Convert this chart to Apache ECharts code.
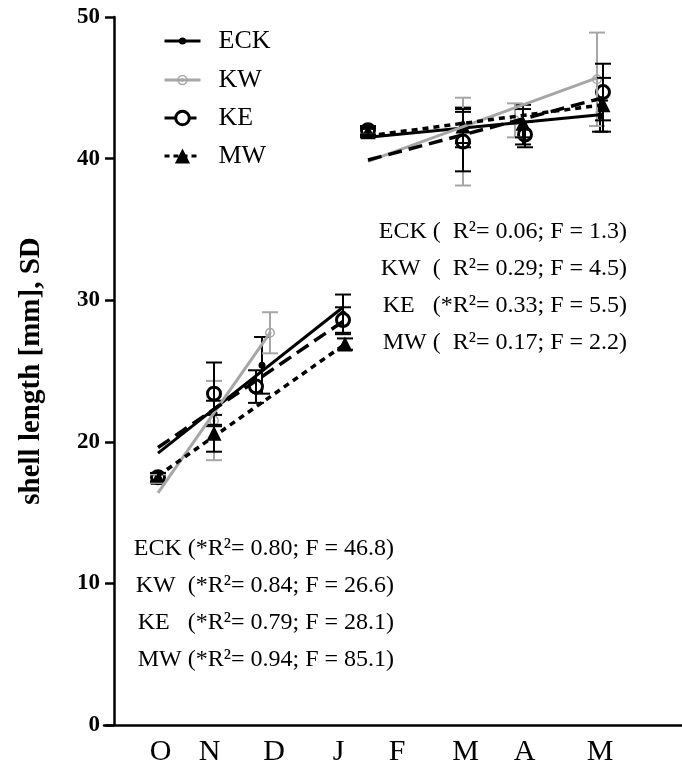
<!DOCTYPE html>
<html>
<head>
<meta charset="utf-8">
<script src="https://cdn.jsdelivr.net/npm/echarts@6/dist/echarts.min.js"></script>
<style>
  html, body { margin: 0; padding: 0; background: #fff; }
  #chart { width: 682px; height: 771px; }
</style>
</head>
<body>
<div id="chart"></div>
<script>
// x axis: study day on which each month label sits
const monthTicks  = [28.25, 52.75, 85, 117.25, 146.5, 180.75, 210.25, 248];
const monthLabels = ['O', 'N', 'D', 'J', 'F', 'M', 'A', 'M'];
const yTicks = { min: 0, max: 50, step: 10 };

// ECK: sampling day, mean shell length (mm), SD
const eckDay  = [27, 55, 79, 119.5, 132, 179.5, 209.5, 248];
const eckMean = [17.4, 22.0, 25.4, 29.0, 41.8, 42.2, 42.4, 43.0];
const eckSD   = [0.3, 0.9, 2.0, 1.4, 0.3, 1.4, 1.4, 1.1];

// KW
const kwDay  = [27, 55, 83, 132, 179.5, 205.5, 246.5];
const kwMean = [17.4, 21.5, 27.7, 42.0, 41.2, 42.7, 45.6];
const kwSD   = [0.3, 2.8, 1.45, 0.3, 3.1, 1.2, 3.3];

// KE
const keDay  = [27, 55, 76, 119.5, 132, 179.5, 210.5, 249.5];
const keMean = [17.5, 23.4, 23.9, 28.6, 42.0, 41.2, 41.7, 44.7];
const keSD   = [0.3, 2.2, 1.15, 0.9, 0.3, 2.1, 0.9, 2.0];

// MW
const mwDay  = [27, 55, 120.5, 132, 179.5, 209.5, 249.5];
const mwMean = [17.5, 20.6, 26.9, 41.9, 42.3, 42.5, 43.8];
const mwSD   = [0.3, 1.3, 0.4, 0.3, 1.2, 1.0, 1.9];

// Linear fits per period (autumn-winter, spring): [start day, end day] -> [start, end] length
const eckFitDay = [[27, 119.5], [132, 248]];
const eckFit    = [[19.2, 29.5], [41.5, 43.1]];
const kwFitDay  = [[27, 83], [132, 246.5]];
const kwFit     = [[16.4, 27.7], [39.8, 45.7]];
const keFitDay  = [[27, 119.5], [132, 249.5]];
const keFit     = [[19.6, 28.5], [39.9, 44.3]];
const mwFitDay  = [[27, 119.5], [132, 249.5]];
const mwFit     = [[17.6, 26.8], [41.6, 43.8]];

// Regression statistics printed on the plot
const statsAutumn = [
  'ECK (*R\u00B2= 0.80; F = 46.8)',
  'KW  (*R\u00B2= 0.84; F = 26.6)',
  'KE   (*R\u00B2= 0.79; F = 28.1)',
  'MW (*R\u00B2= 0.94; F = 85.1)'
];
const statsSpring = [
  'ECK (  R\u00B2= 0.06; F = 1.3)',
  'KW  (  R\u00B2= 0.29; F = 4.5)',
  'KE   (*R\u00B2= 0.33; F = 5.5)',
  'MW (  R\u00B2= 0.17; F = 2.2)'
];

const SERIF = '"Liberation Serif", "Times New Roman", serif';
const GRAY = '#a6a6a6';
const BULLSEYE = 'path://M0,-10A10,10 0 1,1 0,10A10,10 0 1,1 0,-10Z' +
                 'M0,-7A7,7 0 1,0 0,7A7,7 0 1,0 0,-7Z' +
                 'M0,-3.2A3.2,3.2 0 1,1 0,3.2A3.2,3.2 0 1,1 0,-3.2Z';

const pops = [
  { name: 'ECK', day: eckDay, mean: eckMean, sd: eckSD, fitDay: eckFitDay, fit: eckFit,
    barColor: '#000', symbol: 'circle', size: 7,
    item: { color: '#000' }, line: { color: '#000', width: 3, type: 'solid' },
    legendH: 9, legendLine: { color: '#000', width: 3, type: 'solid' } },
  { name: 'KW', day: kwDay, mean: kwMean, sd: kwSD, fitDay: kwFitDay, fit: kwFit,
    barColor: GRAY, symbol: BULLSEYE, size: 10,
    item: { color: GRAY }, line: { color: GRAY, width: 3, type: 'solid' },
    legendH: 13, legendLine: { color: GRAY, width: 3, type: 'solid' } },
  { name: 'KE', day: keDay, mean: keMean, sd: keSD, fitDay: keFitDay, fit: keFit,
    barColor: '#000', symbol: 'circle', size: 13,
    item: { color: '#fff', borderColor: '#000', borderWidth: 3 },
    line: { color: '#000', width: 3.5, type: [14, 7] },
    legendH: 17, legendLine: { color: '#000', width: 3, type: [12, 8] } },
  { name: 'MW', day: mwDay, mean: mwMean, sd: mwSD, fitDay: mwFitDay, fit: mwFit,
    barColor: '#000', symbol: 'triangle', size: 15,
    item: { color: '#000' }, line: { color: '#000', width: 3.5, type: [6, 5] },
    legendH: 19, legendLine: { color: '#000', width: 3, type: [5, 4] } }
];

const legendRows = [41, 80, 118, 156];

const series = [];
pops.forEach(function (p) {
  // regression segments (first series of each name supplies the legend icon)
  p.fitDay.forEach(function (span, k) {
    series.push({
      name: p.name, type: 'line', z: 5,
      symbol: p.symbol, showSymbol: false, silent: true,
      itemStyle: p.item,
      lineStyle: p.line,
      data: [[span[0], p.fit[k][0]], [span[1], p.fit[k][1]]]
    });
  });
  // SD bars
  series.push({
    name: p.name, type: 'custom', z: 4, silent: true,
    data: p.day.map(function (d, i) { return [d, p.mean[i], p.sd[i]]; }),
    encode: { x: 0, y: 1 },
    renderItem: function (params, api) {
      const x = api.value(0), m = api.value(1), s = api.value(2);
      const top = api.coord([x, m + s]);
      const bot = api.coord([x, m - s]);
      const hw = 8;
      const st = { stroke: p.barColor, lineWidth: 2 };
      return {
        type: 'group',
        children: [
          { type: 'line', shape: { x1: top[0], y1: top[1], x2: bot[0], y2: bot[1] }, style: st },
          { type: 'line', shape: { x1: top[0] - hw, y1: top[1], x2: top[0] + hw, y2: top[1] }, style: st },
          { type: 'line', shape: { x1: bot[0] - hw, y1: bot[1], x2: bot[0] + hw, y2: bot[1] }, style: st }
        ]
      };
    }
  });
  // means
  series.push({
    name: p.name, type: 'scatter', z: 3,
    symbol: p.symbol, symbolSize: p.size,
    itemStyle: Object.assign({ opacity: 1 }, p.item),
    data: p.day.map(function (d, i) { return [d, p.mean[i]]; })
  });
});

const legends = pops.map(function (p, i) {
  return {
    left: 163,
    top: legendRows[i] - Math.max(p.legendH, 26) / 2,
    padding: 0,
    orient: 'vertical',
    itemWidth: 36,
    itemHeight: p.legendH,
    selectedMode: false,
    formatter: function (n) { return '  ' + n; },
    textStyle: { fontFamily: SERIF, fontSize: 26, color: '#000' },
    data: [{
      name: p.name,
      itemStyle: Object.assign({ borderColor: p.item.borderColor || p.item.color, borderWidth: p.item.borderWidth || 0 }, p.item),
      lineStyle: p.legendLine
    }]
  };
});

function statBlock(lines, right, firstY) {
  return lines.map(function (t, i) {
    return {
      type: 'text', x: right, y: firstY + i * 37, silent: true,
      style: { text: t, align: 'right', verticalAlign: 'middle',
               font: '24px ' + SERIF, fill: '#000' }
    };
  });
}

const chart = echarts.init(document.getElementById('chart'));
chart.setOption({
  animation: false,
  backgroundColor: '#fff',
  grid: { left: 104, right: 0, top: 17, bottom: 46, containLabel: false, outerBoundsMode: 'none' },
  legend: legends,
  xAxis: {
    type: 'value', min: 0, max: 289,
    axisLine: { show: true, onZero: false, lineStyle: { color: '#000', width: 2.5 } },
    axisTick: { show: false },
    splitLine: { show: false },
    axisLabel: {
      customValues: monthTicks,
      margin: 12,
      fontFamily: SERIF, fontSize: 30, color: '#000',
      formatter: function (v) {
        const i = monthTicks.indexOf(v);
        return i >= 0 ? monthLabels[i] : '';
      }
    }
  },
  yAxis: {
    type: 'value', min: yTicks.min, max: yTicks.max, interval: yTicks.step,
    offset: -10,
    axisLine: { show: true, onZero: false, lineStyle: { color: '#000', width: 2.5 } },
    axisTick: { show: true, length: 9, lineStyle: { color: '#000', width: 2.5 } },
    splitLine: { show: false },
    axisLabel: { margin: 14, fontFamily: SERIF, fontWeight: 'bold', fontSize: 23, color: '#000' },
    name: 'shell length [mm], SD',
    nameLocation: 'middle',
    nameGap: 68,
    nameRotate: 90,
    nameTextStyle: { fontFamily: SERIF, fontWeight: 'bold', fontSize: 29, color: '#000' }
  },
  graphic: statBlock(statsAutumn, 394, 549).concat(statBlock(statsSpring, 627, 232)),
  series: series
});
</script>
</body>
</html>
